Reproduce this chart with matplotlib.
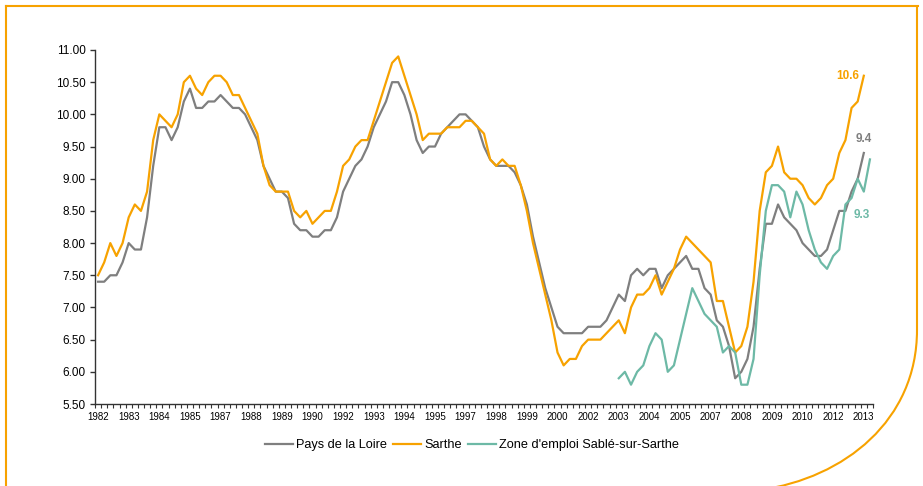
import numpy as np
import matplotlib
matplotlib.use("Agg")
import matplotlib.pyplot as plt
from matplotlib.path import Path
from matplotlib.patches import PathPatch
from matplotlib.lines import Line2D

plt.rcParams['font.family'] = ['Liberation Sans', 'DejaVu Sans']

# taux de chomage trimestriel (%), 1982T1 -> 2013T2
pays_loire = [
    7.4, 7.4, 7.5, 7.5, 7.7, 8.0, 7.9, 7.9, 8.4, 9.2,
    9.8, 9.8, 9.6, 9.8, 10.2, 10.4, 10.1, 10.1, 10.2, 10.2,
    10.3, 10.2, 10.1, 10.1, 10.0, 9.8, 9.6, 9.2, 9.0, 8.8,
    8.8, 8.7, 8.3, 8.2, 8.2, 8.1, 8.1, 8.2, 8.2, 8.4,
    8.8, 9.0, 9.2, 9.3, 9.5, 9.8, 10.0, 10.2, 10.5, 10.5,
    10.3, 10.0, 9.6, 9.4, 9.5, 9.5, 9.7, 9.8, 9.9, 10.0,
    10.0, 9.9, 9.8, 9.5, 9.3, 9.2, 9.2, 9.2, 9.1, 8.9,
    8.6, 8.1, 7.7, 7.3, 7.0, 6.7, 6.6, 6.6, 6.6, 6.6,
    6.7, 6.7, 6.7, 6.8, 7.0, 7.2, 7.1, 7.5, 7.6, 7.5,
    7.6, 7.6, 7.3, 7.5, 7.6, 7.7, 7.8, 7.6, 7.6, 7.3,
    7.2, 6.8, 6.7, 6.4, 5.9, 6.0, 6.2, 6.7, 7.6, 8.3,
    8.3, 8.6, 8.4, 8.3, 8.2, 8.0, 7.9, 7.8, 7.8, 7.9,
    8.2, 8.5, 8.5, 8.8, 9.0, 9.4,
]
sarthe = [
    7.5, 7.7, 8.0, 7.8, 8.0, 8.4, 8.6, 8.5, 8.8, 9.6,
    10.0, 9.9, 9.8, 10.0, 10.5, 10.6, 10.4, 10.3, 10.5, 10.6,
    10.6, 10.5, 10.3, 10.3, 10.1, 9.9, 9.7, 9.2, 8.9, 8.8,
    8.8, 8.8, 8.5, 8.4, 8.5, 8.3, 8.4, 8.5, 8.5, 8.8,
    9.2, 9.3, 9.5, 9.6, 9.6, 9.9, 10.2, 10.5, 10.8, 10.9,
    10.6, 10.3, 10.0, 9.6, 9.7, 9.7, 9.7, 9.8, 9.8, 9.8,
    9.9, 9.9, 9.8, 9.7, 9.3, 9.2, 9.3, 9.2, 9.2, 8.9,
    8.5, 8.0, 7.6, 7.2, 6.8, 6.3, 6.1, 6.2, 6.2, 6.4,
    6.5, 6.5, 6.5, 6.6, 6.7, 6.8, 6.6, 7.0, 7.2, 7.2,
    7.3, 7.5, 7.2, 7.4, 7.6, 7.9, 8.1, 8.0, 7.9, 7.8,
    7.7, 7.1, 7.1, 6.7, 6.3, 6.4, 6.7, 7.4, 8.5, 9.1,
    9.2, 9.5, 9.1, 9.0, 9.0, 8.9, 8.7, 8.6, 8.7, 8.9,
    9.0, 9.4, 9.6, 10.1, 10.2, 10.6,
]
# zone d'emploi : serie commence au trimestre n°85 (2003T2)
SABLE_START = 85
sable = [
    5.9, 6.0, 5.8, 6.0, 6.1, 6.4, 6.6, 6.5, 6.0, 6.1, 6.5,
    6.9, 7.3, 7.1, 6.9, 6.8, 6.7, 6.3, 6.4, 6.3, 5.8,
    5.8, 6.2, 7.5, 8.5, 8.9, 8.9, 8.8, 8.4, 8.8, 8.6,
    8.2, 7.9, 7.7, 7.6, 7.8, 7.9, 8.6, 8.7, 9.0, 8.8, 9.3,
]
year_labels = ['1982', '1983', '1984', '1985', '1987', '1988', '1989', '1990',
               '1992', '1993', '1994', '1995', '1997', '1998', '1999', '2000',
               '2002', '2003', '2004', '2005', '2007', '2008', '2009', '2010',
               '2012', '2013']

GREY = '#7f7f7f'
ORANGE = '#f7a200'
TEAL = '#6db9a6'

W, H = 923, 486
fig = plt.figure(figsize=(W / 100, H / 100), dpi=100)
ax = fig.add_axes([95 / W, 1 - 404 / H, (873 - 95) / W, (404 - 50) / H])

x_main = np.arange(len(sarthe))
x_sable = np.arange(SABLE_START, SABLE_START + len(sable))

ax.plot(x_main, pays_loire, color=GREY, lw=1.6, label='Pays de la Loire')
ax.plot(x_main, sarthe, color=ORANGE, lw=1.6, label='Sarthe')
ax.plot(x_sable, sable, color=TEAL, lw=1.6, label="Zone d'emploi Sablé-sur-Sarthe")

ax.set_xlim(-0.5, 126.5)
ax.set_ylim(5.5, 11.0)
ax.set_yticks(np.arange(5.5, 11.01, 0.5))
ax.set_yticklabels([f'{v:.2f}' for v in np.arange(5.5, 11.01, 0.5)])
ax.set_xticks(np.arange(0, len(sarthe), 5))
ax.set_xticklabels(year_labels)
ax.set_xticks(np.arange(-0.5, 127, 1), minor=True)

for s in ['top', 'right']:
    ax.spines[s].set_visible(False)
for s in ['left', 'bottom']:
    ax.spines[s].set_color('#333333')
    ax.spines[s].set_linewidth(1)
ax.tick_params(axis='y', length=3.5, width=1, color='#333333', labelsize=8.5, pad=3)
ax.tick_params(axis='x', which='major', length=0, labelsize=7, pad=6)
ax.tick_params(axis='x', which='minor', length=3, width=0.8, color='#333333')

# valeurs finales
ax.annotate('10.6', xy=(x_main[-1], sarthe[-1]), xytext=(-16, 0),
            textcoords='offset pixels', color=ORANGE, fontsize=8.5,
            fontweight='bold', ha='center', va='center')
ax.annotate('9.4', xy=(x_main[-1], pays_loire[-1]), xytext=(0, 14),
            textcoords='offset pixels', color=GREY, fontsize=8.5,
            fontweight='bold', ha='center', va='center')
ax.annotate('9.3', xy=(x_sable[-1], sable[-1]), xytext=(-8, -56),
            textcoords='offset pixels', color=TEAL, fontsize=8.5,
            fontweight='bold', ha='center', va='center')

fig.legend(loc='center', bbox_to_anchor=(472 / W, 1 - 445 / H), ncol=3,
           frameon=False, fontsize=9.2, handlelength=2.2, handletextpad=0.25,
           columnspacing=0.45)


# cadre orange avec coin arrondi
def px(x, y):
    return (x / W, 1 - y / H)


fig.add_artist(Line2D([px(6, 6)[0], px(918, 6)[0]], [px(6, 6)[1], px(918, 6)[1]],
                      color=ORANGE, lw=1.5, transform=fig.transFigure))
fig.add_artist(Line2D([px(6, 6)[0], px(6, 490)[0]], [px(6, 6)[1], px(6, 490)[1]],
                      color=ORANGE, lw=1.5, transform=fig.transFigure))
verts = [px(917, 6), px(917, 330), px(917, 420), px(845, 478), px(760, 490)]
codes = [Path.MOVETO, Path.LINETO, Path.CURVE4, Path.CURVE4, Path.CURVE4]
fig.add_artist(PathPatch(Path(verts, codes), fill=False, edgecolor=ORANGE, lw=1.5,
                         transform=fig.transFigure))

fig.savefig('out.png', dpi=100)
